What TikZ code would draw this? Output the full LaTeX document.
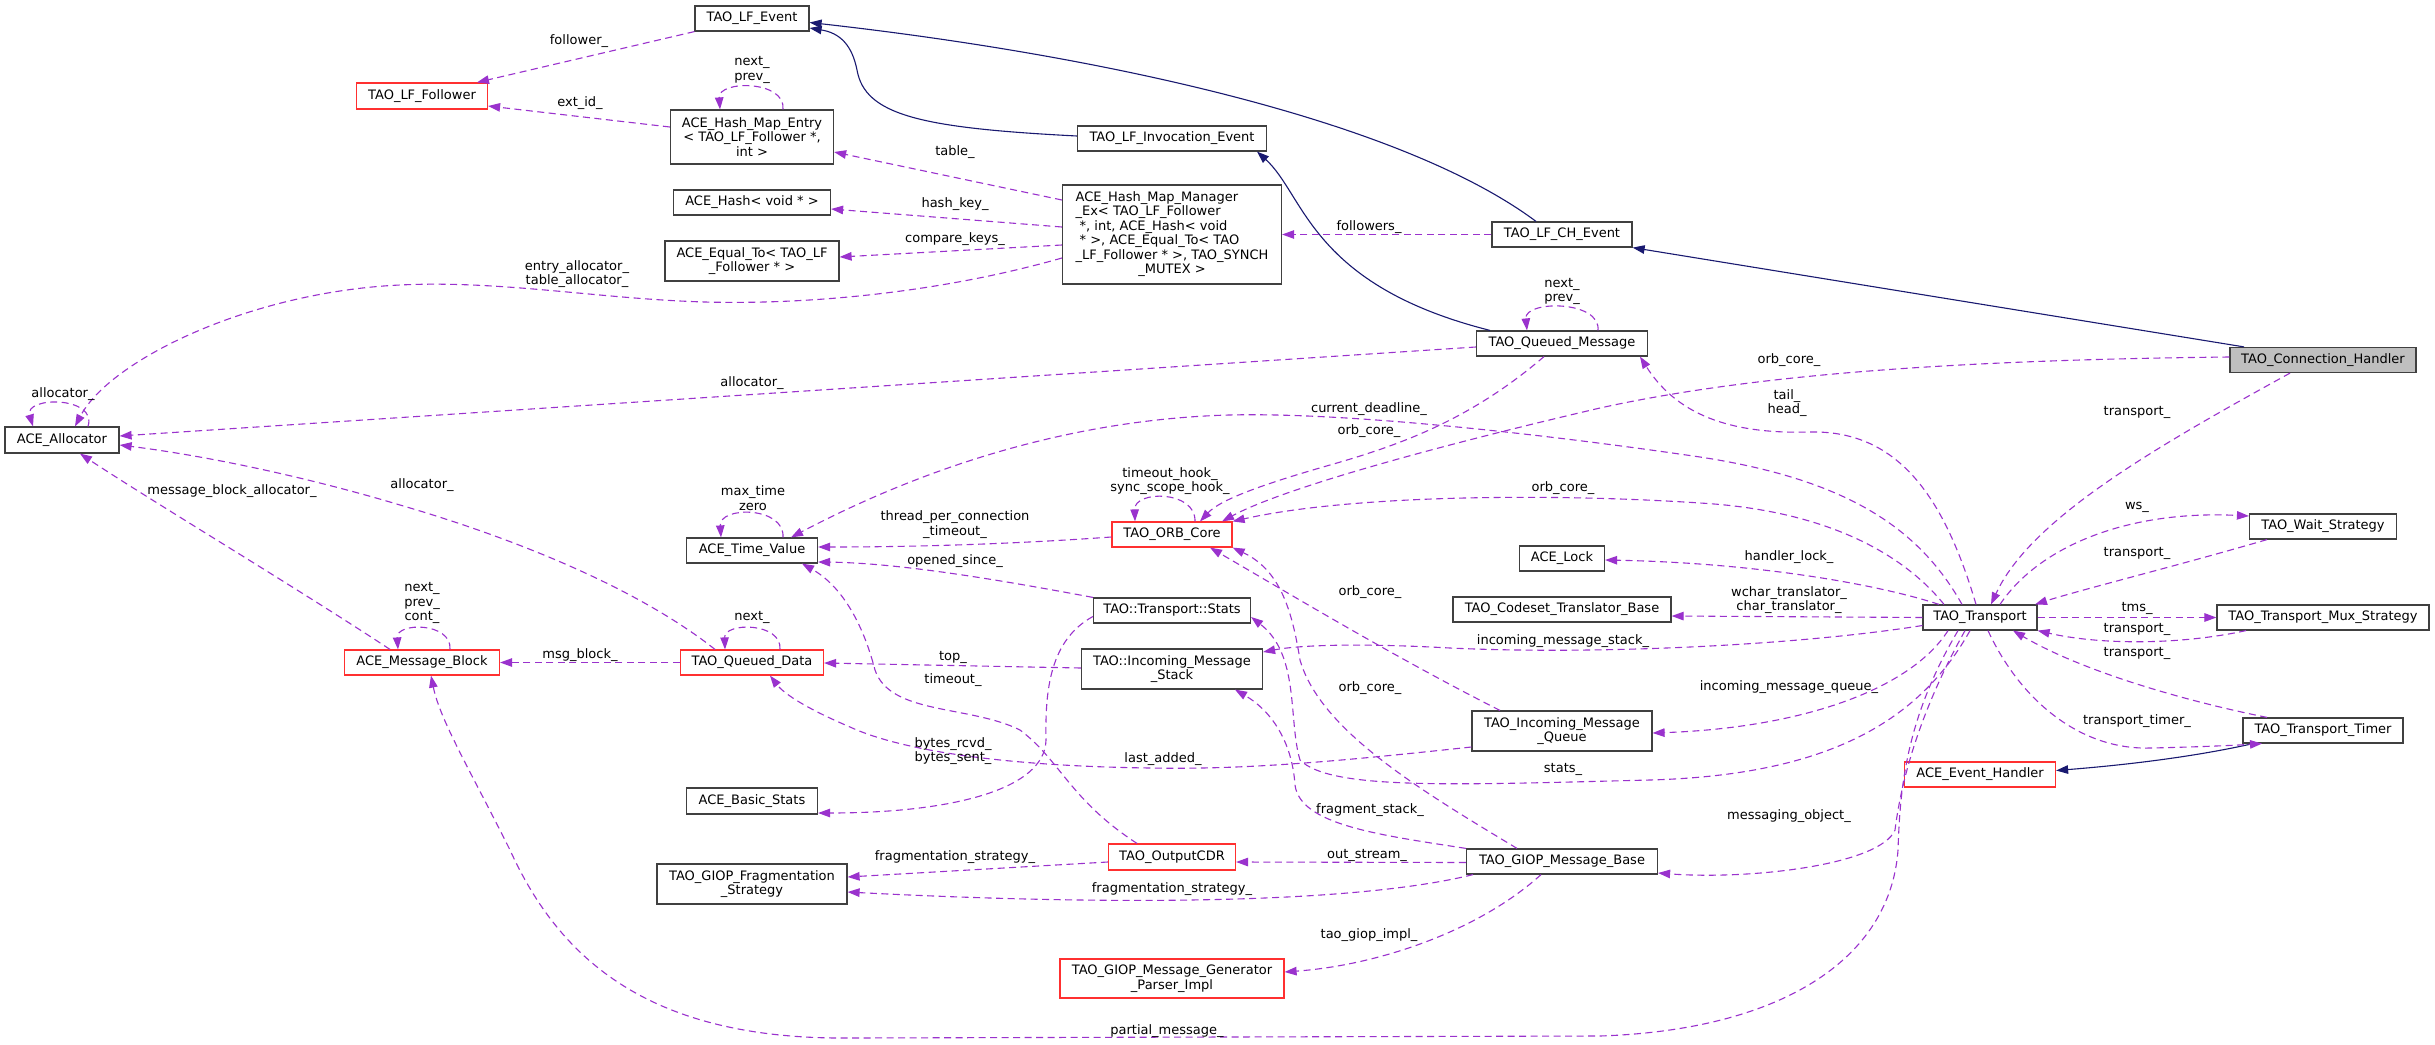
\documentclass[tikz,border=0pt]{standalone}
\usepackage{fontspec}
\setmainfont{DejaVu Sans}
\usetikzlibrary{arrows.meta}
\definecolor{purp}{HTML}{9A32CD}
\definecolor{blu}{HTML}{191970}
\definecolor{redc}{HTML}{FF3030}
\definecolor{grayfill}{HTML}{BFBFBF}
\newcommand\dxfont{\fontsize{13}{14.5}\selectfont}
\tikzset{
  cls/.style={draw=black!75, line width=1.2pt, fill=white, inner xsep=2pt, inner ysep=0pt, align=center, font=\dxfont},
  redcls/.style={cls, draw=redc},
  grcls/.style={cls, fill=grayfill},
  use/.style={draw=purp, line width=1.1pt, dash pattern=on 7pt off 4.5pt, -{Triangle[length=12pt,width=8.5pt]}},
  inh/.style={draw=blu, line width=1.1pt, -{Triangle[length=12pt,width=8.5pt]}},
  lbl/.style={align=center, font=\dxfont, inner sep=0pt}
}
\begin{document}
\begin{tikzpicture}[x=1pt,y=-1pt]
\fill[white] (0,0) rectangle (2435,1044);
\useasboundingbox (0,0) rectangle (2435,1044);

% ---------- nodes ----------
\node[cls, minimum width=114pt, minimum height=25pt] (lfevent) at (752,18.5) {TAO\_LF\_Event};
\node[redcls, minimum width=131pt, minimum height=26pt] (follower) at (422,96) {TAO\_LF\_Follower};
\node[cls, minimum width=163pt, minimum height=54pt] (entry) at (752,137) {ACE\_Hash\_Map\_Entry\\{}< TAO\_LF\_Follower *,\\{}int >};
\node[cls, minimum width=157pt, minimum height=25pt] (hash) at (752,202.5) {ACE\_Hash< void * >};
\node[cls, minimum width=174pt, minimum height=40pt] (equal) at (752,261) {ACE\_Equal\_To< TAO\_LF\\{}\_Follower * >};
\node[cls, minimum width=189pt, minimum height=25pt] (invoc) at (1172,138.5) {TAO\_LF\_Invocation\_Event};
\node[cls, minimum width=219pt, minimum height=99pt] (manager) at (1172,234.5) {\begin{tabular}{@{}l@{}}ACE\_Hash\_Map\_Manager\\{}\_Ex< TAO\_LF\_Follower\\{}\ *, int, ACE\_Hash< void\\{}\ * >, ACE\_Equal\_To< TAO\\{}\_LF\_Follower * >, TAO\_SYNCH\\\multicolumn{1}{@{}c@{}}{\_MUTEX >}\end{tabular}};
\node[cls, minimum width=140pt, minimum height=25pt] (chevent) at (1562,234.5) {TAO\_LF\_CH\_Event};
\node[cls, minimum width=171pt, minimum height=25pt] (qmsg) at (1562,343.5) {TAO\_Queued\_Message};
\node[grcls, minimum width=186pt, minimum height=25pt] (connh) at (2323,360) {TAO\_Connection\_Handler};
\node[cls, minimum width=114pt, minimum height=26pt] (alloc) at (62,440) {ACE\_Allocator};
\node[cls, minimum width=131pt, minimum height=25pt] (timev) at (752,550.5) {ACE\_Time\_Value};
\node[redcls, minimum width=120pt, minimum height=25pt] (orb) at (1172,534.5) {TAO\_ORB\_Core};
\node[cls, minimum width=85pt, minimum height=25pt] (lock) at (1562,558.5) {ACE\_Lock};
\node[cls, minimum width=218pt, minimum height=25pt] (codeset) at (1562,609.5) {TAO\_Codeset\_Translator\_Base};
\node[cls, minimum width=114pt, minimum height=25pt] (transport) at (1980,617.5) {TAO\_Transport};
\node[cls, minimum width=147pt, minimum height=25pt] (wait) at (2323,526.5) {TAO\_Wait\_Strategy};
\node[cls, minimum width=212pt, minimum height=25pt] (mux) at (2323,617.5) {TAO\_Transport\_Mux\_Strategy};
\node[cls, minimum width=160pt, minimum height=25pt] (timer) at (2323,730.5) {TAO\_Transport\_Timer};
\node[redcls, minimum width=151pt, minimum height=25pt] (evh) at (1980,774.5) {ACE\_Event\_Handler};
\node[cls, minimum width=157pt, minimum height=25pt] (stats) at (1172,610.5) {TAO::Transport::Stats};
\node[cls, minimum width=181pt, minimum height=40pt] (imstack) at (1172,669) {TAO::Incoming\_Message\\{}\_Stack};
\node[redcls, minimum width=143pt, minimum height=25pt] (qdata) at (752,662.5) {TAO\_Queued\_Data};
\node[redcls, minimum width=155pt, minimum height=25pt] (mblock) at (422,662.5) {ACE\_Message\_Block};
\node[cls, minimum width=180pt, minimum height=40pt] (imqueue) at (1562,731) {TAO\_Incoming\_Message\\{}\_Queue};
\node[cls, minimum width=131pt, minimum height=26pt] (basic) at (752,801) {ACE\_Basic\_Stats};
\node[cls, minimum width=190pt, minimum height=40pt] (frag) at (752,884) {TAO\_GIOP\_Fragmentation\\{}\_Strategy};
\node[redcls, minimum width=127pt, minimum height=26pt] (ocdr) at (1172,857) {TAO\_OutputCDR};
\node[cls, minimum width=191pt, minimum height=25pt] (giop) at (1562,861.5) {TAO\_GIOP\_Message\_Base};
\node[redcls, minimum width=224pt, minimum height=39pt] (gen) at (1172,978.5) {TAO\_GIOP\_Message\_Generator\\{}\_Parser\_Impl};

% ---------- inheritance ----------
\draw[inh] ([yshift=2.5pt]invoc.west) .. controls (920,128) and (865,115) .. (857,70) .. controls (852,45) and (840,33) .. ([yshift=-9.5pt]lfevent.east);
\draw[inh] ([xshift=-26pt]chevent.north) .. controls (1400,120) and (1100,55) .. ([yshift=-4pt]lfevent.east);
\draw[inh] ([xshift=-79pt]connh.north) -- (chevent.south east);
\draw[inh] ([xshift=-72pt]qmsg.north) .. controls (1310,285) and (1305,195) .. ([xshift=85pt]invoc.south);
\draw[inh] ([xshift=-70pt]timer.south) .. controls (2180,760) and (2100,767) .. ([yshift=4pt]evh.east);

% ---------- usage ----------
\draw[use] (lfevent.south west) -- ([xshift=55pt]follower.north);
\draw[use] ([yshift=10pt]entry.west) -- ([yshift=-10pt]follower.east);
\draw[use] ([xshift=31pt]entry.north) .. controls (786,80) and (718,80) .. ([xshift=-32pt]entry.north);
\draw[use] ([yshift=34.5pt]manager.west) -- ([yshift=-15pt]entry.east);
\draw[use] ([yshift=7.5pt]manager.west) -- ([yshift=-6.5pt]hash.east);
\draw[use] ([yshift=-10.5pt]manager.west) -- ([yshift=4pt]equal.east);
\draw[use] ([yshift=-23.5pt]manager.west) .. controls (950,290) and (820,305) .. (705,302) .. controls (600,299) and (500,280) .. (400,285) .. controls (250,292) and (110,360) .. ([xshift=13pt]alloc.north);
\draw[use] (chevent.west) -- (manager.east);
\draw[use] ([xshift=36pt]qmsg.north) .. controls (1601,300) and (1524,300) .. ([xshift=-35pt]qmsg.north);
\draw[use] ([xshift=26pt]alloc.north) .. controls (98,396) and (24,396) .. ([xshift=-29pt]alloc.north);
\draw[use] ([yshift=-3.5pt]qmsg.west) -- ([yshift=4pt]alloc.east);
\draw[use] ([xshift=-18pt]qmsg.south) .. controls (1470,420) and (1400,445) .. (1330,465) .. controls (1260,485) and (1220,500) .. ([xshift=28pt]orb.north);
\draw[use] ([yshift=3pt]connh.west) .. controls (1950,360) and (1750,375) .. (1600,408) .. controls (1420,450) and (1280,490) .. ([xshift=50pt]orb.north);
\draw[use] ([xshift=-33pt]connh.south) .. controls (2150,450) and (2030,520) .. ([xshift=11pt]transport.north);
\draw[use] ([xshift=-4pt]transport.north) .. controls (1945,500) and (1900,430) .. (1810,432) .. controls (1740,434) and (1680,420) .. ([xshift=78pt]qmsg.south);
\draw[use] ([xshift=-18pt]transport.north) .. controls (1920,530) and (1850,480) .. (1700,457) .. controls (1550,435) and (1350,412) .. (1229,415) .. controls (1050,420) and (900,480) .. ([xshift=39pt]timev.north);
\draw[use] ([xshift=-36pt]transport.north) .. controls (1900,550) and (1820,510) .. (1700,503) .. controls (1550,493) and (1350,495) .. (orb.north east);
\draw[use] ([xshift=-41pt]transport.north) .. controls (1880,585) and (1760,563) .. ([yshift=-1.5pt]lock.east);
\draw[use] (transport.west) -- ([yshift=-6.5pt]codeset.east);
\draw[use] ([yshift=-8pt]transport.west) .. controls (1800,645) and (1600,655) .. (1450,648) .. controls (1360,643) and (1300,645) .. ([yshift=17pt]imstack.east);
\draw[use] ([xshift=-32pt]transport.south) .. controls (1910,690) and (1800,728) .. ([yshift=-2pt]imqueue.east);
\draw[use] ([xshift=-10pt]transport.south) .. controls (1920,720) and (1830,775) .. (1650,780) .. controls (1450,785) and (1330,790) .. (1300,760) .. controls (1288,720) and (1300,655) .. ([yshift=-6.5pt]stats.east);
\draw[use] ([xshift=-15pt]transport.south) .. controls (1915,720) and (1900,790) .. (1895,830) .. controls (1880,865) and (1750,880) .. ([yshift=-11.5pt]giop.east);
\draw[use] ([xshift=-22pt]transport.south) .. controls (1905,720) and (1900,790) .. (1898,850) .. controls (1890,960) and (1780,1030) .. (1600,1036) -- (850,1038) .. controls (650,1040) and (560,960) .. (510,850) .. controls (470,770) and (440,720) .. ([xshift=9pt]mblock.south);
\draw[use] ([xshift=20pt]transport.north) .. controls (2040,545) and (2130,510) .. ([yshift=10.5pt]wait.west);
\draw[use] ([xshift=-56pt]wait.south) .. controls (2180,565) and (2080,590) .. ([xshift=55pt]transport.north);
\draw[use] (transport.east) -- (mux.west);
\draw[use] ([xshift=-77pt]mux.south) .. controls (2180,645) and (2100,645) .. (transport.south east);
\draw[use] ([xshift=-56pt]timer.north) .. controls (2180,700) and (2080,670) .. ([xshift=33pt]transport.south);
\draw[use] ([xshift=8pt]transport.south) .. controls (2020,700) and (2080,750) .. (2150,748) .. controls (2200,747) and (2240,745) .. ([xshift=-61pt]timer.south);
\draw[use] ([xshift=23pt]orb.north) .. controls (1196,490) and (1134,490) .. ([xshift=-37pt]orb.north);
\draw[use] ([yshift=-2.5pt]orb.west) .. controls (1000,545) and (900,547) .. ([yshift=3.5pt]timev.east);
\draw[use] (stats.north west) .. controls (1000,580) and (900,563) .. ([yshift=-11.5pt]timev.east);
\draw[use] ([xshift=31pt]timev.north) .. controls (785,506) and (719,506) .. ([xshift=-31pt]timev.north);
\draw[use] ([xshift=-35pt]ocdr.north) .. controls (1070,800) and (1060,760) .. (1020,730) .. controls (970,705) and (890,715) .. (875,670) .. controls (862,620) and (840,585) .. ([xshift=50pt]timev.south);
\draw[use] ([yshift=-6pt]stats.west) .. controls (1050,640) and (1045,690) .. (1046,740) .. controls (1045,790) and (950,813) .. ([yshift=-12pt]basic.east);
\draw[use] ([yshift=1pt]imstack.west) -- ([yshift=-0.5pt]qdata.east);
\draw[use] ([yshift=-16pt]imqueue.west) .. controls (1350,760) and (1250,770) .. (1150,768) .. controls (1000,766) and (900,750) .. (850,727) .. controls (810,710) and (785,695) .. ([xshift=18pt]qdata.south);
\draw[use] ([xshift=-62pt]imqueue.north) .. controls (1400,660) and (1300,600) .. ([xshift=38pt]orb.south);
\draw[use] ([xshift=-45pt]giop.north) .. controls (1420,790) and (1320,730) .. (1300,660) .. controls (1292,610) and (1280,570) .. (orb.south east);
\draw[use] (giop.north west) .. controls (1380,835) and (1300,825) .. (1295,785) .. controls (1292,740) and (1270,710) .. ([xshift=63pt]imstack.south);
\draw[use] ([yshift=-1pt]giop.west) -- ([yshift=-5pt]ocdr.east);
\draw[use] ([yshift=-5pt]ocdr.west) -- ([yshift=7pt]frag.east);
\draw[use] ([xshift=-89pt]giop.south) .. controls (1350,905) and (1100,905) .. ([yshift=-8pt]frag.east);
\draw[use] ([xshift=-21pt]giop.south) .. controls (1480,930) and (1380,965) .. ([yshift=6.5pt]gen.east);
\draw[use] (qdata.west) -- (mblock.east);
\draw[use] ([xshift=28pt]qdata.north) .. controls (782,622) and (724,622) .. ([xshift=-27pt]qdata.north);
\draw[use] ([xshift=28pt]mblock.north) .. controls (452,622) and (396,622) .. ([xshift=-24pt]mblock.north);
\draw[use] ([xshift=-37pt]qdata.north) .. controls (640,590) and (520,540) .. (400,505) .. controls (300,475) and (200,455) .. ([yshift=-5pt]alloc.east);
\draw[use] ([xshift=-32pt]mblock.north) .. controls (300,590) and (150,500) .. ([xshift=18pt]alloc.south);

% ---------- labels ----------
\node[lbl] (l1) at (579,41) {follower\_};
\node[lbl] (l2) at (580,103) {ext\_id\_};
\node[lbl] (l3) at (752,70) {next\_\\prev\_};
\node[lbl] (l4) at (955,152) {table\_};
\node[lbl] (l5) at (955,204) {hash\_key\_};
\node[lbl] (l6) at (955,239) {compare\_keys\_};
\node[lbl] (l7) at (577,274) {entry\_allocator\_\\table\_allocator\_};
\node[lbl] (l8) at (1369,227) {followers\_};
\node[lbl] (l9) at (1562,291.5) {next\_\\prev\_};
\node[lbl] (l10) at (63,394) {allocator\_};
\node[lbl] (l11) at (752,383) {allocator\_};
\node[lbl] (l12) at (1369,431) {orb\_core\_};
\node[lbl] (l13) at (1789,360) {orb\_core\_};
\node[lbl] (l14) at (2137,412) {transport\_};
\node[lbl] (l15) at (1787,403) {tail\_\\head\_};
\node[lbl] (l16) at (1369,409) {current\_deadline\_};
\node[lbl] (l17) at (1563,488) {orb\_core\_};
\node[lbl] (l18) at (1789,557) {handler\_lock\_};
\node[lbl] (l19) at (1789,600) {wchar\_translator\_\\char\_translator\_};
\node[lbl] (l20) at (1563,641) {incoming\_message\_stack\_};
\node[lbl] (l21) at (1789,687) {incoming\_message\_queue\_};
\node[lbl] (l22) at (1563,769) {stats\_};
\node[lbl] (l23) at (1789,816) {messaging\_object\_};
\node[lbl] (l24) at (1167,1031) {partial\_message\_};
\node[lbl] (l25) at (2137,507) {ws\_};
\node[lbl] (l26) at (2137,553) {transport\_};
\node[lbl] (l27) at (2137,608) {tms\_};
\node[lbl] (l28) at (2137,629) {transport\_};
\node[lbl] (l29) at (2137,653) {transport\_};
\node[lbl] (l30) at (2137,721) {transport\_timer\_};
\node[lbl] (l31) at (1170,481) {timeout\_hook\_\\sync\_scope\_hook\_};
\node[lbl] (l32) at (955,524.5) {thread\_per\_connection\\\_timeout\_};
\node[lbl] (l33) at (955,561) {opened\_since\_};
\node[lbl] (l34) at (753,498) {max\_time\\zero};
\node[lbl] (l35) at (953,680) {timeout\_};
\node[lbl] (l36) at (953,751) {bytes\_rcvd\_\\bytes\_sent\_};
\node[lbl] (l37) at (953,657) {top\_};
\node[lbl] (l38) at (1163,759) {last\_added\_};
\node[lbl] (l39) at (1370,592) {orb\_core\_};
\node[lbl] (l40) at (1370,688) {orb\_core\_};
\node[lbl] (l41) at (1370,810) {fragment\_stack\_};
\node[lbl] (l42) at (1367,855) {out\_stream\_};
\node[lbl] (l43) at (955,857) {fragmentation\_strategy\_};
\node[lbl] (l44) at (1172,889) {fragmentation\_strategy\_};
\node[lbl] (l45) at (1369,935) {tao\_giop\_impl\_};
\node[lbl] (l46) at (580,655) {msg\_block\_};
\node[lbl] (l47) at (752,617) {next\_};
\node[lbl] (l48) at (422,603) {next\_\\prev\_\\cont\_};
\node[lbl] (l49) at (422,485) {allocator\_};
\node[lbl] (l50) at (232,491) {message\_block\_allocator\_};
\end{tikzpicture}
\end{document}
